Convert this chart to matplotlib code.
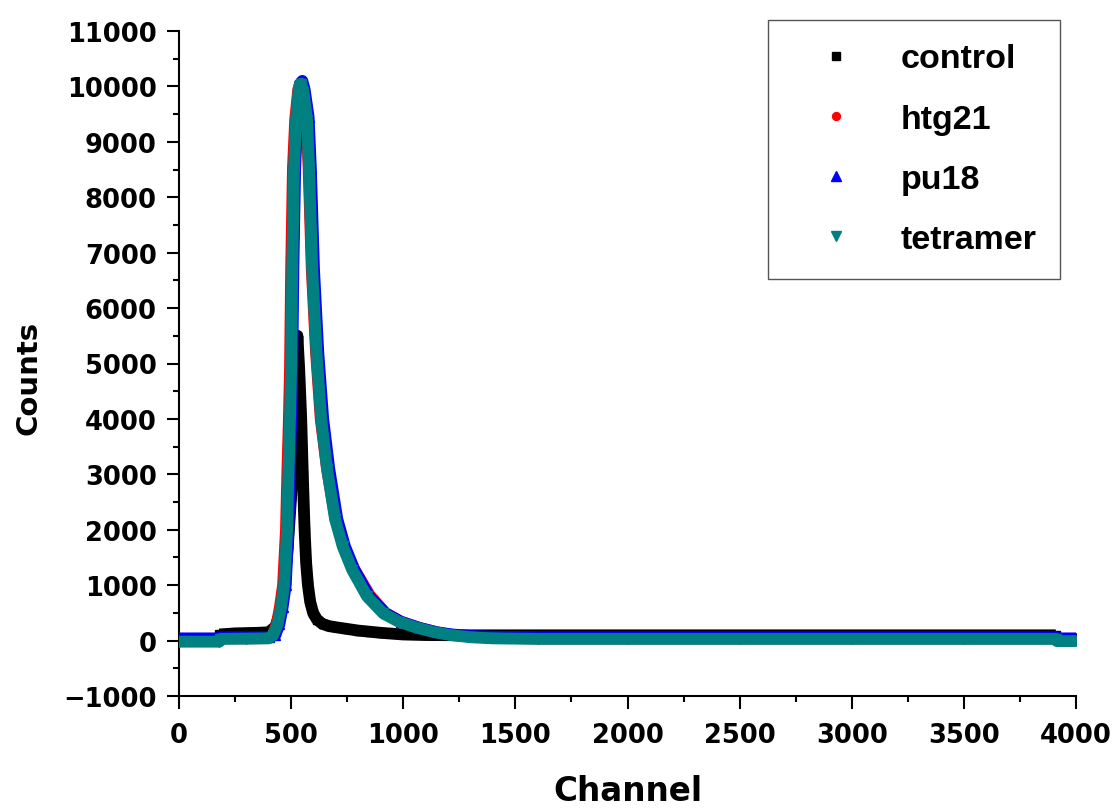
import matplotlib
matplotlib.use('Agg')
import matplotlib.pyplot as plt
from matplotlib.ticker import MultipleLocator

# ── Spectra (channel, counts) ────────────────────────────────────────────────
ctrl_ch = [180, 250, 300, 350, 400, 430, 450, 470, 485, 500, 510, 520, 528, 536, 545,
           552, 560, 567, 575, 585, 598, 615, 640, 670, 700, 750, 800, 850, 900, 1000,
           1100, 1300, 1600, 2000, 2500, 3000, 3500, 3910]
ctrl_ct = [110, 130, 135, 140, 150, 250, 500, 1000, 1700, 2600, 3500, 4500, 5500, 4900, 4000,
           3000, 2000, 1400, 1000, 700, 500, 380, 300, 260, 240, 210, 180, 160, 140, 110,
           100, 95, 95, 95, 95, 95, 95, 95]

htg_ch = [0, 180, 185, 300, 400, 418, 436, 450, 464, 477, 483, 490, 495, 500, 508,
          518, 532, 543, 553, 569, 578, 592, 611, 632, 660, 698, 735, 780, 850, 920,
          990, 1070, 1150, 1220, 1310, 1400, 1600, 2000, 2500, 3000, 3500, 3910, 3915, 4000]
htg_ct = [0, 0, 40, 40, 45, 100, 300, 600, 1000, 2000, 3000, 4000, 4900, 6700, 8520,
          9400, 9950, 10000, 9850, 9350, 8520, 6700, 5200, 4000, 3100, 2190, 1700, 1300, 820, 500,
          340, 230, 150, 100, 70, 50, 40, 40, 40, 40, 40, 40, 10, 10]

pu_ch = [0, 180, 185, 300, 400, 430, 448, 462, 476, 488, 494, 500, 505, 510, 518,
         527, 540, 550, 560, 578, 588, 602, 621, 643, 670, 706, 740, 782, 848, 921,
         990, 1072, 1150, 1220, 1310, 1400, 1600, 2000, 2500, 3000, 3500, 3910, 3915, 4000]
pu_ct = [40, 40, 60, 60, 60, 100, 300, 600, 1000, 2000, 3000, 4000, 4900, 6700, 8520,
         9400, 10050, 10100, 9950, 9450, 8520, 6700, 5200, 4000, 3100, 2190, 1700, 1280, 800, 490,
         340, 230, 150, 110, 80, 70, 60, 60, 60, 60, 60, 60, 40, 40]

tet_ch = [0, 180, 185, 300, 400, 420, 440, 455, 469, 482, 488, 495, 500, 505, 513,
          522, 535, 545, 555, 571, 580, 594, 613, 634, 660, 696, 730, 772, 838, 911,
          980, 1062, 1140, 1210, 1300, 1400, 1600, 2000, 2500, 3000, 3500, 3910, 3915, 4000]
tet_ct = [-20, -20, 30, 35, 40, 100, 300, 600, 1000, 2000, 3000, 4000, 4900, 6700, 8520,
          9400, 10000, 10050, 9900, 9400, 8520, 6700, 5200, 4000, 3100, 2190, 1700, 1280, 800, 490,
          340, 230, 150, 100, 60, 40, 30, 30, 30, 30, 30, 30, -10, -10]

series = [
    ('control',  ctrl_ch, ctrl_ct, 'black',   's', 6.0),
    ('htg21',    htg_ch,  htg_ct,  '#FF0000', 'o', 6.0),
    ('pu18',     pu_ch,   pu_ct,   '#0000FF', '^', 7.0),
    ('tetramer', tet_ch,  tet_ct,  '#008080', 'v', 7.0),
]

TICK_FONT = 'DejaVu Sans'
LABEL_FONT = 'DejaVu Sans'
LEGEND_FONT = 'Liberation Sans'

fig = plt.figure(figsize=(11.15, 8.12), dpi=100)
ax = fig.add_axes([179/1115, 1 - 697/812, (1076-179)/1115, (697-32)/812])

handles = []
for i, (name, ch, ct, col, mk, ms) in enumerate(series):
    # dense point cloud drawn as a thick band, markers on top
    ax.plot(ch, ct, color=col, lw=8.5, solid_joinstyle='round',
            solid_capstyle='butt', zorder=2 + i)
    h, = ax.plot(ch, ct, ls='none', marker=mk, ms=ms, color=col,
                 mec=col, label=name, zorder=2 + i)
    handles.append(h)

ax.set_xlim(0, 4000)
ax.set_ylim(-1000, 11000)
ax.xaxis.set_major_locator(MultipleLocator(500))
ax.xaxis.set_minor_locator(MultipleLocator(250))
ax.yaxis.set_major_locator(MultipleLocator(1000))
ax.yaxis.set_minor_locator(MultipleLocator(500))

for side in ('top', 'right'):
    ax.spines[side].set_visible(False)
for side in ('left', 'bottom'):
    ax.spines[side].set_linewidth(1.5)

ax.tick_params(which='major', direction='out', length=9, width=1.5)
ax.tick_params(which='minor', direction='out', length=4.5, width=1.5)
ax.tick_params(axis='y', which='major', pad=7)
ax.tick_params(axis='x', which='major', pad=10)
for lab in ax.get_xticklabels() + ax.get_yticklabels():
    lab.set_fontfamily(TICK_FONT)
    lab.set_fontweight('bold')
    lab.set_fontsize(18.5)

ax.set_xlabel('Channel', fontfamily=LABEL_FONT, fontweight='bold', fontsize=23.5)
ax.set_ylabel('Counts', fontfamily=LABEL_FONT, fontweight='bold', fontsize=21)
ax.xaxis.set_label_coords(0.5, -0.118)
ax.yaxis.set_label_coords(-0.152, 0.48)

leg = ax.legend(handles=handles, loc='upper right',
                bbox_to_anchor=(1060/1115, 1 - 21/812), bbox_transform=fig.transFigure,
                prop={'family': LEGEND_FONT, 'weight': 'bold', 'size': 24.5},
                handlelength=2.6, handletextpad=0.59,
                borderpad=0.69, labelspacing=0.86, borderaxespad=0,
                fancybox=False, framealpha=1, edgecolor='#555555', markerscale=0.95)
leg.get_frame().set_linewidth(1.0)

fig.savefig('out.png', dpi=100)
